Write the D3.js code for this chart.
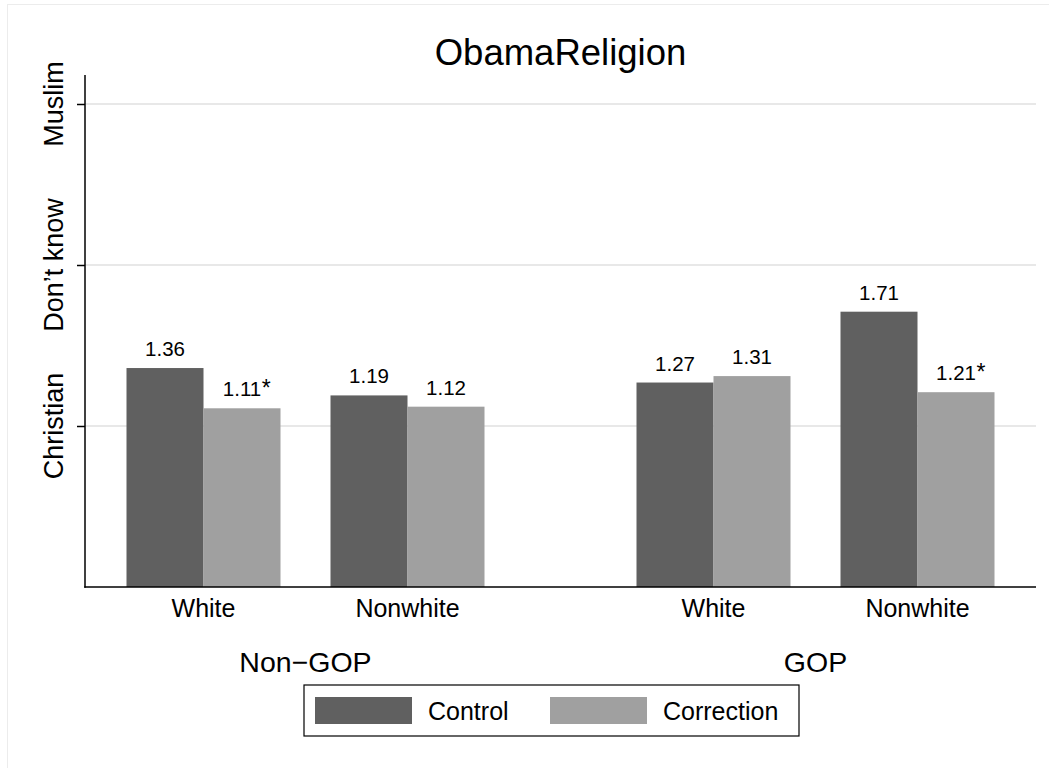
<!DOCTYPE html>
<html>
<head>
<meta charset="utf-8">
<script src="https://cdn.jsdelivr.net/npm/d3@7"></script>
<style>
  body { margin: 0; background: #fff; }
  svg { display: block; font-family: "Liberation Sans", Arial, Helvetica, sans-serif; }
</style>
</head>
<body>
<svg id="chart" width="1049" height="768"></svg>
<script>
// ---- data ----
const outerGroups = ["Non\u2212GOP", "GOP"];
const innerGroups = ["White", "Nonwhite"];
const seriesNames = ["Control", "Correction"];
const controlValues = [1.36, 1.19, 1.27, 1.71];
const correctionValues = [1.11, 1.12, 1.31, 1.21];
const correctionSignificant = [true, false, false, true];
const yTickValues = [1, 2, 3];
const yTickLabels = ["Christian", "Don\u2019t know", "Muslim"];
const title = "ObamaReligion";

// ---- layout ----
const W = 1049, H = 768;
const left = 85, right = 1036, bottom = 587, axisTop = 75;
const colors = { Control: "#606060", Correction: "#a0a0a0" };

const svg = d3.select("#chart");

// faint outer frame
svg.append("rect").attr("x", 7.5).attr("y", 4.5).attr("width", W).attr("height", H)
  .attr("fill", "none").attr("stroke", "#ececec").attr("stroke-width", 1);

const y = d3.scaleLinear().domain([0, 3]).range([bottom, 104]);

const xOuter = d3.scaleBand().domain(outerGroups).range([left, right])
  .paddingInner(0.2).paddingOuter(0.03235);
const xInner = d3.scaleBand().domain(innerGroups).range([0, xOuter.bandwidth()])
  .paddingInner(50 / 204).paddingOuter(25 / 204);
const xSeries = d3.scaleBand().domain(seriesNames).range([0, xInner.bandwidth()]).padding(0);

// rows
const rows = [];
outerGroups.forEach((og, i) => {
  innerGroups.forEach((ig, j) => {
    const k = i * innerGroups.length + j;
    rows.push({ og, ig, series: "Control", value: controlValues[k], sig: false });
    rows.push({ og, ig, series: "Correction", value: correctionValues[k], sig: correctionSignificant[k] });
  });
});
const xPos = d => xOuter(d.og) + xInner(d.ig) + xSeries(d.series);

// gridlines
svg.append("g").selectAll("line").data(yTickValues).join("line")
  .attr("x1", left).attr("x2", right)
  .attr("y1", d => y(d)).attr("y2", d => y(d))
  .attr("stroke", "#e8e8e8").attr("stroke-width", 2);

// bars
svg.append("g").selectAll("rect").data(rows).join("rect")
  .attr("x", d => xPos(d))
  .attr("width", xSeries.bandwidth())
  .attr("y", d => y(d.value))
  .attr("height", d => y(0) - y(d.value))
  .attr("fill", d => colors[d.series]);

// value labels
const vl = svg.append("g").attr("font-size", 20.5).attr("fill", "#000");
rows.forEach(d => {
  const cx = xPos(d) + xSeries.bandwidth() / 2;
  const t = vl.append("text").attr("x", cx).attr("y", y(d.value) - 12)
    .attr("text-anchor", "middle").text(d.value.toFixed(2));
  if (d.sig) {
    const w = t.node().getComputedTextLength();
    vl.append("text").attr("x", cx + w / 2 + 0.5).attr("y", y(d.value) - 12)
      .attr("text-anchor", "start").attr("font-size", 23).text("*");
  }
});

// y axis
const yAxis = d3.axisLeft(y).tickValues(yTickValues).tickSize(8).tickFormat("");
const gy = svg.append("g").attr("transform", `translate(${left},0)`).call(yAxis);
gy.select(".domain").remove();
gy.selectAll(".tick line").attr("stroke", "#000").attr("stroke-width", 1.5);
svg.append("line").attr("x1", left).attr("x2", left).attr("y1", axisTop).attr("y2", bottom + 0.75)
  .attr("stroke", "#000").attr("stroke-width", 1.5);
svg.append("g").selectAll("text").data(yTickValues).join("text")
  .attr("transform", d => `translate(63,${y(d)}) rotate(-90)`)
  .attr("text-anchor", "middle").attr("font-size", 27)
  .text((d, i) => yTickLabels[i]);

// x axis line
svg.append("line").attr("x1", left - 0.75).attr("x2", right).attr("y1", bottom).attr("y2", bottom)
  .attr("stroke", "#000").attr("stroke-width", 1.5);

// inner labels
outerGroups.forEach(og => {
  innerGroups.forEach(ig => {
    svg.append("text")
      .attr("x", xOuter(og) + xInner(ig) + xInner.bandwidth() / 2)
      .attr("y", 617).attr("text-anchor", "middle").attr("font-size", 25)
      .text(ig);
  });
  svg.append("text")
    .attr("x", xOuter(og) + xOuter.bandwidth() / 2)
    .attr("y", 672).attr("text-anchor", "middle").attr("font-size", 28.5)
    .text(og);
});

// title
svg.append("text").attr("x", (left + right) / 2).attr("y", 65)
  .attr("text-anchor", "middle").attr("font-size", 36.5).text(title);

// legend
const lg = svg.append("g");
lg.append("rect").attr("x", 304).attr("y", 685).attr("width", 495).attr("height", 51)
  .attr("fill", "#fff").attr("stroke", "#000").attr("stroke-width", 1.2);
const legendX = { Control: 315, Correction: 550 };
seriesNames.forEach(s => {
  lg.append("rect").attr("x", legendX[s]).attr("y", 697).attr("width", 97).attr("height", 27)
    .attr("fill", colors[s]);
  lg.append("text").attr("x", legendX[s] + 113).attr("y", 719.5)
    .attr("font-size", 25).text(s);
});
</script>
</body>
</html>
